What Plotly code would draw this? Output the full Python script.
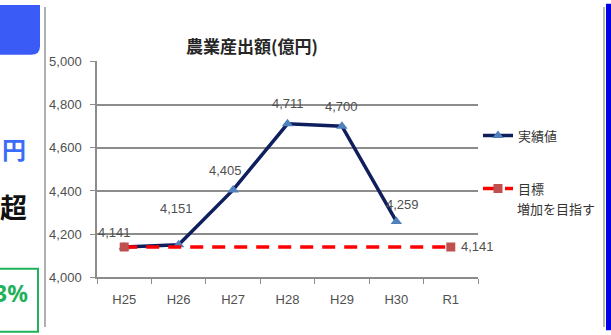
import plotly.graph_objects as go

W, H = 611, 335

categories = ["H25", "H26", "H27", "H28", "H29", "H30", "R1"]
actual_x = ["H25", "H26", "H27", "H28", "H29", "H30"]
actual_y = [4141, 4151, 4405, 4711, 4700, 4259]
target_x = ["H25", "R1"]
target_y = [4141, 4141]
y_ticks = [4000, 4200, 4400, 4600, 4800, 5000]

title_text = "農業産出額(億円)"
legend_actual = "実績値"
legend_target = "目標"
legend_target_note = "増加を目指す"

NUM_FONT = "Liberation Sans, Arial, sans-serif"
JP_FONT = "Noto Sans CJK JP, sans-serif"

def px(x):
    return x / W

def py(y):
    return 1 - y / H

fig = go.Figure()

fig.add_trace(go.Scatter(
    x=actual_x, y=actual_y, mode="lines+markers", name=legend_actual,
    legendgroup="a",
    line=dict(color="#0f1f5e", width=3.5),
    marker=dict(symbol="triangle-up", size=10, color="#4f81bd"),
))
fig.add_trace(go.Scatter(
    x=target_x, y=target_y, mode="lines+markers", name=legend_target,
    legendgroup="b",
    line=dict(color="#ff0000", width=3.5, dash="13px,9px"),
    marker=dict(symbol="square", size=9, color="#c0504d"),
))

# data labels (offsets in pixels only)
offsets = [(-10, -14), (-2, -36), (-8, -19), (0, -20), (0, -20), (6, -17)]
for xv, yv, (ox, oy) in zip(actual_x, actual_y, offsets):
    fig.add_annotation(x=xv, y=yv, text=f"{yv:,}", showarrow=False,
                       xshift=ox, yshift=-oy,
                       font=dict(family=NUM_FONT, size=13, color="#505050"))
fig.add_annotation(x=target_x[-1], y=target_y[-1], text=f"{target_y[-1]:,}",
                   showarrow=False, xanchor="left", xshift=8, yshift=0,
                   font=dict(family=NUM_FONT, size=13, color="#505050"))

# title
fig.add_annotation(xref="paper", yref="paper", x=px(252), y=py(25),
                   text=f"<b>{title_text}</b>", showarrow=False,
                   font=dict(family=JP_FONT, size=17, color="#262626"))

# legend note (second line of target legend)
fig.add_annotation(xref="paper", yref="paper", x=px(515), y=py(211), xanchor="left",
                   text=legend_target_note, showarrow=False,
                   font=dict(family=JP_FONT, size=13, color="#333333"))

# left-side slide fragments
shapes = []
r = 9
shapes.append(dict(type="path", xref="paper", yref="paper",
                   path=(f"M {px(-2)},{py(-2)} L {px(40)},{py(-2)} L {px(40)},{py(50 - r)} "
                         f"Q {px(40)},{py(50)} {px(40 - r)},{py(50)} L {px(-2)},{py(50)} Z"),
                   fillcolor="#3b5bf7", line=dict(width=0)))
shapes.append(dict(type="rect", xref="paper", yref="paper",
                   x0=px(-3), x1=px(38), y0=py(274), y1=py(340),
                   line=dict(color="#1fb25a", width=2), fillcolor="rgba(0,0,0,0)"))
shapes.append(dict(type="line", xref="paper", yref="paper",
                   x0=px(45), x1=px(45), y0=0, y1=1,
                   line=dict(color="#b0b0b0", width=2)))
shapes.append(dict(type="line", xref="paper", yref="paper",
                   x0=px(604), x1=px(604), y0=0, y1=1,
                   line=dict(color="#b8b8b8", width=2)))
shapes.append(dict(type="rect", xref="paper", yref="paper",
                   x0=px(606), x1=px(612), y0=-0.01, y1=1.01,
                   fillcolor="#0000e6", line=dict(width=0)))

fig.add_annotation(xref="paper", yref="paper", x=px(28), y=py(148), xanchor="right",
                   text="<b>円</b>", showarrow=False,
                   font=dict(family=JP_FONT, size=24, color="#3b6cf7"))
fig.add_annotation(xref="paper", yref="paper", x=px(29), y=py(209), xanchor="right",
                   text="<b>超</b>", showarrow=False,
                   font=dict(family=JP_FONT, size=27, color="#111111"))
fig.add_annotation(xref="paper", yref="paper", x=px(30), y=py(318), xanchor="right",
                   text="<b>3%</b>", showarrow=False,
                   font=dict(family="Noto Sans, sans-serif", size=23, color="#1fb25a"))

fig.update_layout(
    width=W, height=H,
    margin=dict(l=0, r=0, t=0, b=0),
    paper_bgcolor="white", plot_bgcolor="white",
    shapes=shapes,
    showlegend=True,
    legend=dict(x=px(478), y=py(119), xanchor="left", yanchor="top",
                font=dict(family=JP_FONT, size=13, color="#333333"),
                tracegroupgap=33, valign="top", itemwidth=30,
                bgcolor="rgba(0,0,0,0)"),
    xaxis=dict(domain=[px(97), px(478)], type="category",
               categoryorder="array", categoryarray=categories,
               range=[-0.5, 6.5], showgrid=False,
               showline=True, linecolor="#8c8c8c", linewidth=1.5,
               ticks="outside", tickson="boundaries", ticklen=5, tickcolor="#8c8c8c",
               ticklabelstandoff=9,
               tickfont=dict(family=NUM_FONT, size=13, color="#505050"),
               fixedrange=True),
    yaxis=dict(domain=[py(283), py(57)], range=[4000, 5000],
               tickvals=y_ticks, ticktext=[f"{v:,}" for v in y_ticks],
               showgrid=True, gridcolor="#8c8c8c", gridwidth=1.5,
               showline=True, linecolor="#8c8c8c", linewidth=1.5,
               ticks="outside", ticklen=5, tickcolor="#8c8c8c",
               ticklabelstandoff=6,
               tickfont=dict(family=NUM_FONT, size=13, color="#505050"),
               zeroline=False, fixedrange=True),
)

fig.write_html("out.html")
